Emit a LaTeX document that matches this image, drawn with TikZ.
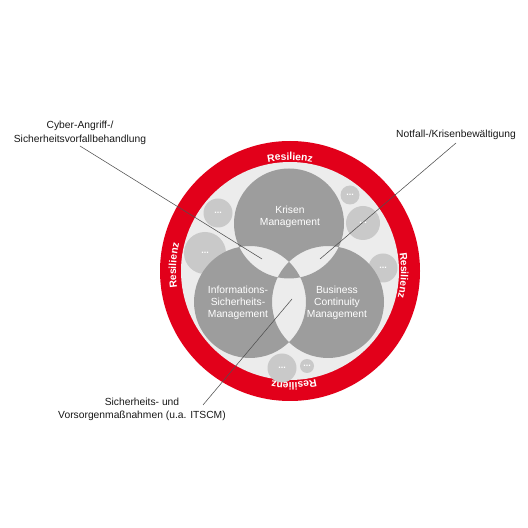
\documentclass[tikz,border=0pt]{standalone}
\usepackage{fontspec}
\setmainfont{Liberation Sans}
\usetikzlibrary{decorations.text}
\definecolor{resred}{HTML}{E2001A}
\definecolor{innerbg}{HTML}{ECECEC}
\definecolor{venngray}{HTML}{9D9D9D}
\definecolor{smallgray}{HTML}{C9C9C9}
\definecolor{leader}{HTML}{505050}
\begin{document}
\begin{tikzpicture}[x=1pt,y=1pt,
  venntext/.style={text=white,font=\fontsize{10.3}{12.3}\selectfont,align=center,inner sep=0pt},
  labeltext/.style={text=black!90,font=\fontsize{10.3}{14}\selectfont,align=center,inner sep=0pt},
  dots/.style={text=white,font=\fontsize{9}{9}\selectfont\bfseries,inner sep=0pt},
  smallc/.style={fill=smallgray},
  leaderline/.style={draw=leader,line width=0.55pt},
  resdeco/.style={decorate,decoration={text along path,text align=center,text color=white,
     text={|\fontsize{10.3}{12}\selectfont\bfseries|Resilienz}}}]
\useasboundingbox (0,0) rectangle (528,528);
\fill[white] (0,0) rectangle (528,528);
\coordinate (C) at (290,257);
% ring
\fill[resred] (C) circle[radius=130];
\fill[innerbg] (C) circle[radius=109];
% Resilienz labels
\path[resdeco] (C) ++(110:111) arc[start angle=110,end angle=70,radius=111];
\path[resdeco] (C) ++(17.8:111) arc[start angle=17.8,end angle=-22.2,radius=111];
\path[resdeco] (C) ++(-68:111.5) arc[start angle=-68,end angle=-108,radius=111.5];
\path[resdeco] (C) ++(197.3:114) arc[start angle=197.3,end angle=157.3,radius=114];
% small circles
\fill[smallc] (218,315) circle[radius=14.5]; \node[dots] (s1) at (218,315) {...};
\fill[smallc] (205,275) circle[radius=21];   \node[dots] (s2) at (205,275) {...};
\fill[smallc] (350,333) circle[radius=9.5];  \node[dots] (s3) at (350,333) {...};
\fill[smallc] (363,305) circle[radius=17];   \node[dots] (s4) at (363,305) {...};
\fill[smallc] (383,260) circle[radius=14.5]; \node[dots] (s5) at (383,260) {...};
\fill[smallc] (282,160) circle[radius=14.5]; \node[dots] (s6) at (282,160) {...};
\fill[smallc] (307,162) circle[radius=7];    \node[dots] (s7) at (307,162) {...};
% Venn
\coordinate (K) at (289,304.5);
\coordinate (I) at (250,226);
\coordinate (B) at (328,226);
\fill[venngray,even odd rule] (K) circle[radius=55] (I) circle[radius=56] (B) circle[radius=56];
\node[venntext] (krisen) at (290,311) {Krisen\\Management};
\node[venntext] (ism) at (238,225) {Informations-\\Sicherheits-\\Management};
\node[venntext] (bcm) at (337,225) {Business\\Continuity\\Management};
% labels
\node[labeltext] (cyber) at (80,395) {Cyber-Angriff-/\\Sicherheitsvorfallbehandlung};
\node[labeltext] (notfall) at (456,393) {Notfall-/Krisenbewältigung};
\node[labeltext,font=\fontsize{10.3}{13}\selectfont] (sich) at (142,119) {Sicherheits- und\\Vorsorgenmaßnahmen (u.a. ITSCM)};
% leader lines
\coordinate (c1) at (80,382);  \coordinate (c2) at (262,269);
\coordinate (n1) at (456,385); \coordinate (n2) at (320,269);
\coordinate (v1) at (203,123); \coordinate (v2) at (292,229);
\draw[leaderline] (c1) -- (c2);
\draw[leaderline] (n1) -- (n2);
\draw[leaderline] (v1) -- (v2);
\end{tikzpicture}
\end{document}
